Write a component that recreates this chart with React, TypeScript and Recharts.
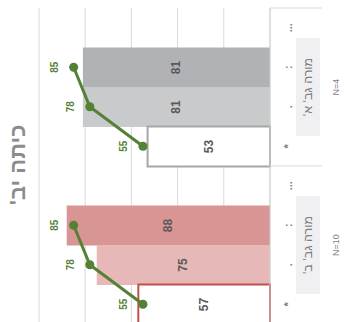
import React from 'react';
import { ComposedChart, Bar, Line, XAxis, YAxis, CartesianGrid, Cell } from 'recharts';

const title = "כיתה יב'";
const subLabels = ['...', ':', '.', '*', '...', ':', '.', '*'];
const groupNames = ["מורה גב' א'", "מורה גב' ב'"];
const groupN = ['N=4', 'N=10'];
const barValues: (number | null)[] = [null, 81, 81, 53, null, 88, 75, 57];
const lineValuesA: (number | null)[] = [null, 85, 78, 55, null, null, null, null];
const lineValuesB: (number | null)[] = [null, null, null, null, null, 85, 78, 55];
const barFills = ['none', '#b1b2b6', '#c9cacc', '#ffffff', 'none', '#d99594', '#e6b8b7', '#ffffff'];
const barStrokes = ['none', 'none', 'none', '#a6a6a6', 'none', 'none', 'none', '#c0504d'];
const valueTicks = [0, 20, 40, 60, 80, 100];

const data = subLabels.map((s, i) => ({
  key: String(i),
  sub: s,
  bar: barValues[i],
  lineA: lineValuesA[i],
  lineB: lineValuesB[i],
}));

const FONT = "'Liberation Sans', 'DejaVu Sans', Arial, sans-serif";
const GREEN = '#538135';
const TEXT_GRAY = '#7f7f7f';

const CategoryTick = (props: any) => {
  const { x, y, payload, index } = props;
  const half = payload && payload.offset ? payload.offset : 19.75;
  const sub = subLabels[index] ?? '';
  const els: any[] = [];
  els.push(
    <text key="s" x={x + 22} y={y} transform={`rotate(-90, ${x + 22}, ${y})`} textAnchor="middle"
      fontSize={11} fill={TEXT_GRAY} fontFamily={FONT} fontWeight="bold">{sub}</text>
  );
  if (index % 4 === 0) {
    const g = Math.floor(index / 4);
    const top = y - half;
    const center = top + 4 * half;
    els.push(<line key="sep" x1={x} x2={x + 52} y1={top} y2={top} stroke="#d9d9d9" strokeWidth={1} />);
    els.push(<rect key="box" x={x + 26} y={center - 49} width={24} height={98} fill="#f0f0f2" />);
    els.push(
      <text key="g" x={x + 38} y={center} transform={`rotate(-90, ${x + 38}, ${center})`} textAnchor="middle"
        direction="rtl" unicodeBidi="embed"
        dominantBaseline="central" fontSize={12.5} fill={TEXT_GRAY} fontFamily={FONT}>{groupNames[g]}</text>
    );
    els.push(
      <text key="n" x={x + 66} y={center} transform={`rotate(-90, ${x + 66}, ${center})`} textAnchor="middle"
        dominantBaseline="central" fontSize={9} fill={TEXT_GRAY} fontFamily={FONT}>{groupN[g]}</text>
    );
  }
  return <g>{els}</g>;
};

const BarLabel = (props: any) => {
  const { x, y, width, height, value } = props;
  if (value == null) return null;
  const cx = x + width / 2;
  const cy = y + height / 2;
  return (
    <text x={cx} y={cy} transform={`rotate(-90, ${cx}, ${cy})`} textAnchor="middle" dominantBaseline="central"
      fontSize={12} fontWeight="bold" fill="#595959" fontFamily={FONT}>{value}</text>
  );
};

const LineLabel = (props: any) => {
  const { x, y, value } = props;
  if (value == null) return null;
  const lx = x - 19;
  return (
    <text x={lx} y={y} transform={`rotate(-90, ${lx}, ${y})`} textAnchor="middle" dominantBaseline="central"
      fontSize={10} fontWeight="bold" fill={GREEN} fontFamily={FONT}>{value}</text>
  );
};

export default function App() {
  return (
    <div style={{ position: 'absolute', left: 0, top: 0, width: 344, height: 322, overflow: 'hidden', background: '#fff', fontFamily: FONT }}>
      <ComposedChart
        width={344}
        height={330}
        data={data}
        layout="vertical"
        margin={{ top: 8, right: 0, bottom: 6, left: 39 }}
        barCategoryGap={0}
        barGap={0}
      >
        <CartesianGrid horizontal={false} stroke="#d9d9d9" />
        <XAxis type="number" domain={[0, 100]} ticks={valueTicks} reversed hide />
        <YAxis
          type="category"
          dataKey="key"
          orientation="right"
          width={74}
          interval={0}
          tickSize={0}
          tickMargin={0}
          tickLine={false}
          axisLine={{ stroke: '#d0d0d0' }}
          tick={<CategoryTick />}
        />
        <Bar dataKey="bar" isAnimationActive={false} label={<BarLabel />}>
          {data.map((d, i) => (
            <Cell key={i} fill={barFills[i]} stroke={barStrokes[i]} strokeWidth={barStrokes[i] === 'none' ? 0 : 2} />
          ))}
        </Bar>
        {['lineA', 'lineB'].map((k) => (
          <Line
            key={k}
            dataKey={k}
            stroke={GREEN}
            strokeWidth={3}
            dot={{ r: 4.5, fill: GREEN, stroke: GREEN, strokeWidth: 0 }}
            activeDot={false}
            isAnimationActive={false}
            label={<LineLabel />}
          />
        ))}
      </ComposedChart>
      <svg width={344} height={322} style={{ position: 'absolute', left: 0, top: 0, pointerEvents: 'none' }}>
        <text x={25} y={165} transform="rotate(-90, 25, 165)" textAnchor="middle" fontSize={22} fontWeight="bold"
          direction="rtl" unicodeBidi="embed"
          fill="#8c8c8c" fontFamily={FONT}>{title}</text>
      </svg>
    </div>
  );
}
